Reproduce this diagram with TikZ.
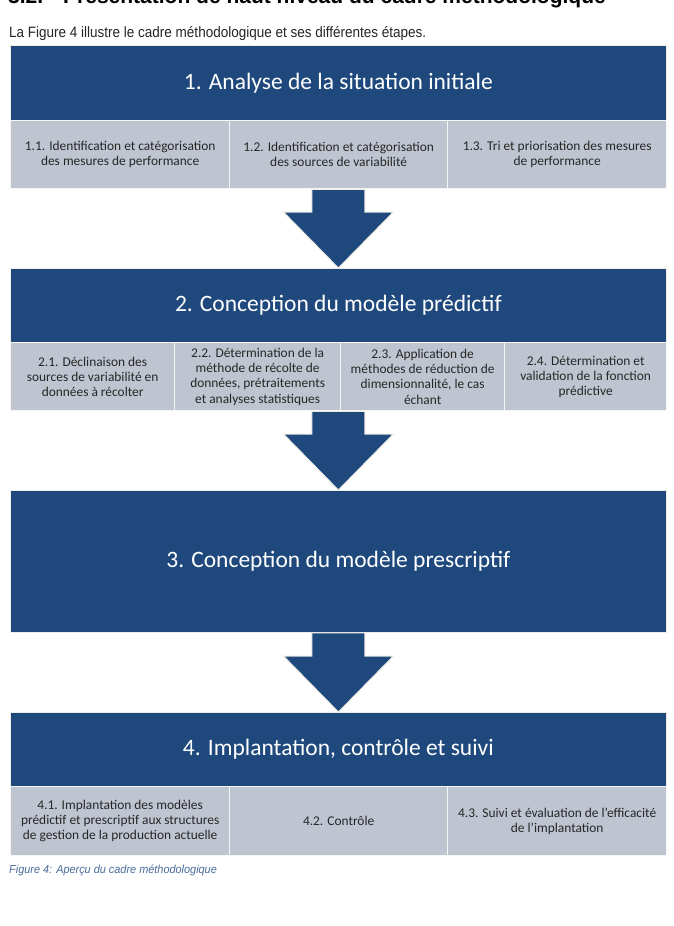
\documentclass[tikz,border=0pt]{standalone}
\usepackage{fontspec}
\setmainfont{Carlito}
\newfontfamily\arialn[FakeStretch=0.9]{Liberation Sans}
\newfontfamily\arialc[FakeStretch=0.94]{Liberation Sans}
\newfontfamily\arialb{Liberation Sans}
\usetikzlibrary{calc}
\definecolor{dblue}{HTML}{1F497D}
\definecolor{sgray}{HTML}{BFC5D0}
\definecolor{capblue}{HTML}{4A6B9A}
\definecolor{edgec}{HTML}{EDEDE6}
\newcommand\flowarrow[2]{%
  \fill[flowarr] let \p1=(#1), \p2=(#2) in
    (\x2-26.5pt,\y1) -- (\x2+26.5pt,\y1) -- (\x2+26.5pt,\y2+56pt) -- (\x2+55pt,\y2+56pt)
    -- (\x2,\y2) -- (\x2-55pt,\y2+56pt) -- (\x2-26.5pt,\y2+56pt) -- cycle;}
\begin{document}
\begin{tikzpicture}[x=1pt,y=-1pt,
  hdr/.style={fill=dblue, draw=edgec, line width=0.8pt, text=white,
    font=\fontsize{23.5}{28}\selectfont, inner sep=0pt, anchor=north west,
    minimum width=656pt},
  sub/.style={fill=sgray, draw=white!93!gray, line width=1.3pt, text=black!85,
    font=\fontsize{13.4}{15.2}\selectfont, align=center, inner sep=0pt,
    anchor=north west, minimum height=68pt},
  headtxt/.style={anchor=base west, inner sep=0pt, font=\arialb\bfseries\fontsize{21}{24}\selectfont},
  flowarr/.style={fill=dblue, draw=edgec, line width=1pt}]
\useasboundingbox (0,0) rectangle (674,926);
\fill[white] (0,0) rectangle (674,926);
% heading and intro
\node[headtxt] (headnum) at (8,4) {3.2.};
\node[headtxt] (head) at (63,4) {Présentation de haut niveau du cadre méthodologique};
\node[anchor=base west, inner sep=0pt, text=black!85, font=\arialn\fontsize{15}{17}\selectfont] (intro) at (9,37)
  {La Figure 4 illustre le cadre méthodologique et ses différentes étapes.};
% block 1
\node[hdr, minimum height=75pt] (b1) at (10,45) {1. Analyse de la situation initiale};
\node[sub, minimum width=219pt] (s11) at (10,120) {1.1. Identification et catégorisation\\des mesures de performance};
\node[sub, minimum width=218pt] (s12) at (229,120) {1.2. Identification et catégorisation\\des sources de variabilité};
\node[sub, minimum width=219pt] (s13) at (447,120) {1.3. Tri et priorisation des mesures\\de performance};
% block 2
\node[hdr, minimum height=74pt] (b2) at (10,268) {2. Conception du modèle prédictif};
\node[sub, minimum width=164pt] (s21) at (10,342) {2.1. Déclinaison des\\sources de variabilité en\\données à récolter};
\node[sub, minimum width=166pt] (s22) at (174,342) {2.2. Détermination de la\\méthode de récolte de\\données, prétraitements\\et analyses statistiques};
\node[sub, minimum width=164pt] (s23) at (340,342) {2.3. Application de\\méthodes de réduction de\\dimensionnalité, le cas\\échant};
\node[sub, minimum width=162pt] (s24) at (504,342) {2.4. Détermination et\\validation de la fonction\\prédictive};
% block 3
\node[hdr, minimum height=142pt] (b3) at (10,490) {3. Conception du modèle prescriptif};
% block 4
\node[hdr, minimum height=74pt] (b4) at (10,712) {4. Implantation, contrôle et suivi};
\node[sub, minimum width=219pt, minimum height=69pt] (s41) at (10,786) {4.1. Implantation des modèles\\prédictif et prescriptif aux structures\\de gestion de la production actuelle};
\node[sub, minimum width=218pt, minimum height=69pt] (s42) at (229,786) {4.2. Contrôle};
\node[sub, minimum width=219pt, minimum height=69pt] (s43) at (447,786) {4.3. Suivi et évaluation de l'efficacité\\de l'implantation};
% arrows
\flowarrow{s12.south}{b2.north}
\flowarrow{s22.south east}{b3.north}
\flowarrow{b3.south}{b4.north}
% caption
\node[anchor=base west, inner sep=0pt, text=capblue, font=\arialc\itshape\fontsize{11.6}{13}\selectfont] (cap) at (9,873)
  {Figure 4: Aperçu du cadre méthodologique};
\end{tikzpicture}
\end{document}
